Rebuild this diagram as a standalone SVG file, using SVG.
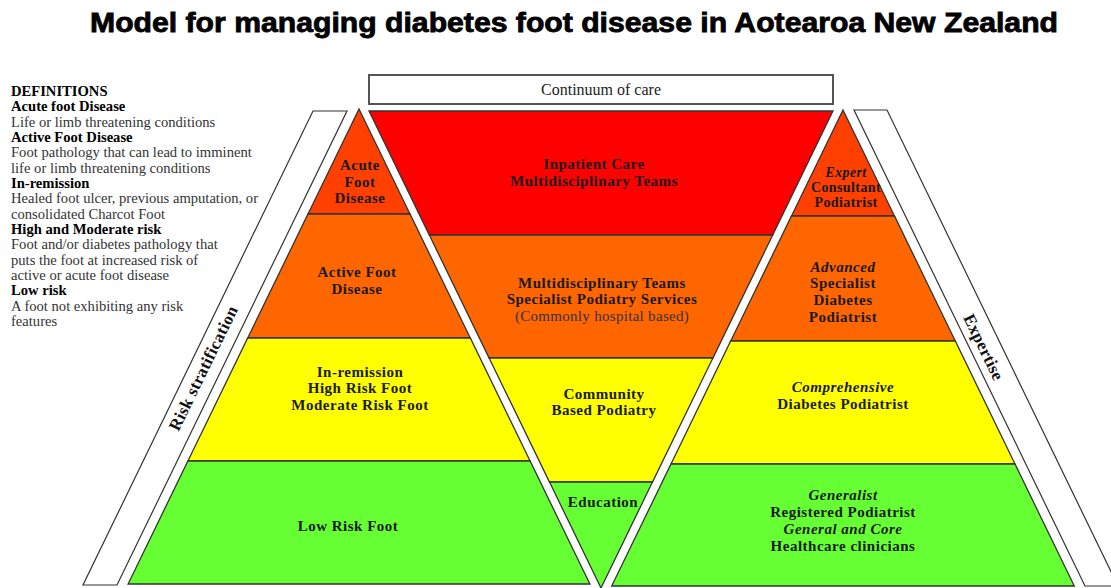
<svg xmlns="http://www.w3.org/2000/svg" width="1111" height="588" viewBox="0 0 1111 588">
<style>
.title{font-family:"Liberation Sans",Arial,sans-serif;font-weight:bold;font-size:27px;fill:#000;stroke:#000;stroke-width:0.8px;text-anchor:middle}
.def{font-family:"Liberation Serif","Times New Roman",serif;font-size:14.6px;fill:#333}
.defb{font-family:"Liberation Serif","Times New Roman",serif;font-size:14.6px;font-weight:bold;fill:#000}
.cont{font-family:"Liberation Serif","Times New Roman",serif;font-size:16px;fill:#222;text-anchor:middle}
.band{stroke:#333;stroke-width:1.3}
.lab{font-family:"Liberation Serif","Times New Roman",serif;font-size:15px;font-weight:bold;fill:#1a1a1a;text-anchor:middle;letter-spacing:0.5px}
.labs{font-family:"Liberation Serif","Times New Roman",serif;font-size:14px;font-weight:bold;fill:#1a1a1a;text-anchor:middle;letter-spacing:0.4px}
.it{font-style:italic}
.reg{font-weight:normal;fill:#333;letter-spacing:0.3px}
.side{fill:#fff;stroke:#333;stroke-width:1.2}
.sidelab{font-family:"Liberation Serif","Times New Roman",serif;font-size:17px;font-weight:bold;fill:#111;text-anchor:middle;letter-spacing:0.3px}
.red{fill:#ff0000}.acute{fill:#ff4000}.orange{fill:#ff6600}.yellow{fill:#ffff00}.green{fill:#66ff33}
</style>

<text class="title" x="574" y="32" textLength="968" lengthAdjust="spacingAndGlyphs">Model for managing diabetes foot disease in Aotearoa New Zealand</text>

<g id="definitions">
<text class="defb" x="11" y="96">DEFINITIONS</text>
<text class="defb" x="11" y="111.3">Acute foot Disease</text>
<text class="def" x="11" y="126.7">Life or limb threatening conditions</text>
<text class="defb" x="11" y="142">Active Foot Disease</text>
<text class="def" x="11" y="157.3">Foot pathology that can lead to imminent</text>
<text class="def" x="11" y="172.7">life or limb threatening conditions</text>
<text class="defb" x="11" y="188">In-remission</text>
<text class="def" x="11" y="203.3">Healed foot ulcer, previous amputation, or</text>
<text class="def" x="11" y="218.7">consolidated Charcot Foot</text>
<text class="defb" x="11" y="234">High and Moderate risk</text>
<text class="def" x="11" y="249.3">Foot and/or diabetes pathology that</text>
<text class="def" x="11" y="264.7">puts the foot at increased risk of</text>
<text class="def" x="11" y="280">active or acute foot disease</text>
<text class="defb" x="11" y="295.3">Low risk</text>
<text class="def" x="11" y="310.7">A foot not exhibiting any risk</text>
<text class="def" x="11" y="326">features</text>
</g>

<g id="continuum">
<rect x="369" y="75" width="464" height="29" fill="#fff" stroke="#555" stroke-width="2"/>
<text class="cont" x="601" y="95">Continuum of care</text>
</g>

<g id="risk-stratification">
<polygon class="side" points="313,111 347,111 117,585 83,585"/>
<text class="sidelab" transform="translate(203,368) rotate(-64)" x="0" y="6">Risk stratification</text>
</g>

<g id="expertise">
<polygon class="side" points="854,110 887,110 1118,586 1085,586"/>
<text class="sidelab" transform="translate(984,347) rotate(64)" x="0" y="6">Expertise</text>
</g>

<g id="risk-acute">
<polygon class="band acute" points="359,109 410,214 308,214"/>
<text class="lab"><tspan x="360" y="170">Acute</tspan><tspan x="360" y="187">Foot</tspan><tspan x="360" y="203">Disease</tspan></text>
</g>
<g id="risk-active">
<polygon class="band orange" points="308,214 410,214 470.3,338 247.7,338"/>
<text class="lab"><tspan x="357" y="277">Active Foot</tspan><tspan x="357" y="294">Disease</tspan></text>
</g>
<g id="risk-high">
<polygon class="band yellow" points="247.7,338 470.3,338 530.1,461 187.9,461"/>
<text class="lab"><tspan x="360" y="377">In-remission</tspan><tspan x="360" y="393">High Risk Foot</tspan><tspan x="360" y="410">Moderate Risk Foot</tspan></text>
</g>
<g id="risk-low">
<polygon class="band green" points="187.9,461 530.1,461 589.9,584 128.1,584"/>
<text class="lab" x="348" y="531">Low Risk Foot</text>
</g>

<g id="care-inpatient">
<polygon class="band red" points="369,111 833,111 772.7,235 429.3,235"/>
<text class="lab"><tspan x="594" y="169">Inpatient Care</tspan><tspan x="594" y="186">Multidisciplinary Teams</tspan></text>
</g>
<g id="care-specialist">
<polygon class="band orange" points="429.3,235 772.7,235 712.9,358 489.1,358"/>
<text class="lab"><tspan x="602" y="288">Multidisciplinary Teams</tspan><tspan x="602" y="304">Specialist Podiatry Services</tspan><tspan class="reg" x="602" y="321">(Commonly hospital based)</tspan></text>
</g>
<g id="care-community">
<polygon class="band yellow" points="489.1,358 712.9,358 652.5,482 549.5,482"/>
<text class="lab"><tspan x="604" y="399">Community</tspan><tspan x="604" y="415">Based Podiatry</tspan></text>
</g>
<g id="care-education">
<polygon class="band green" points="549.5,482 652.5,482 601,588"/>
<text class="lab" x="603" y="507">Education</text>
</g>

<g id="exp-expert">
<polygon class="band acute" points="843,110 894.5,216 791.5,216"/>
<text class="labs"><tspan class="it" x="846" y="177">Expert</tspan><tspan x="846" y="192">Consultant</tspan><tspan x="846" y="207">Podiatrist</tspan></text>
</g>
<g id="exp-advanced">
<polygon class="band orange" points="791.5,216 894.5,216 955.3,341 730.7,341"/>
<text class="lab"><tspan class="it" x="843" y="272">Advanced</tspan><tspan x="843" y="288">Specialist</tspan><tspan x="843" y="305">Diabetes</tspan><tspan x="843" y="322">Podiatrist</tspan></text>
</g>
<g id="exp-comprehensive">
<polygon class="band yellow" points="730.7,341 955.3,341 1015,464 671,464"/>
<text class="lab"><tspan class="it" x="843" y="392">Comprehensive</tspan><tspan x="843" y="409">Diabetes Podiatrist</tspan></text>
</g>
<g id="exp-generalist">
<polygon class="band green" points="671,464 1015,464 1074.3,586 611.7,586"/>
<text class="lab"><tspan class="it" x="843" y="500">Generalist</tspan><tspan x="843" y="517">Registered Podiatrist</tspan><tspan class="it" x="843" y="534">General and Core</tspan><tspan x="843" y="551">Healthcare clinicians</tspan></text>
</g>

<g id="connectors"/>
</svg>
